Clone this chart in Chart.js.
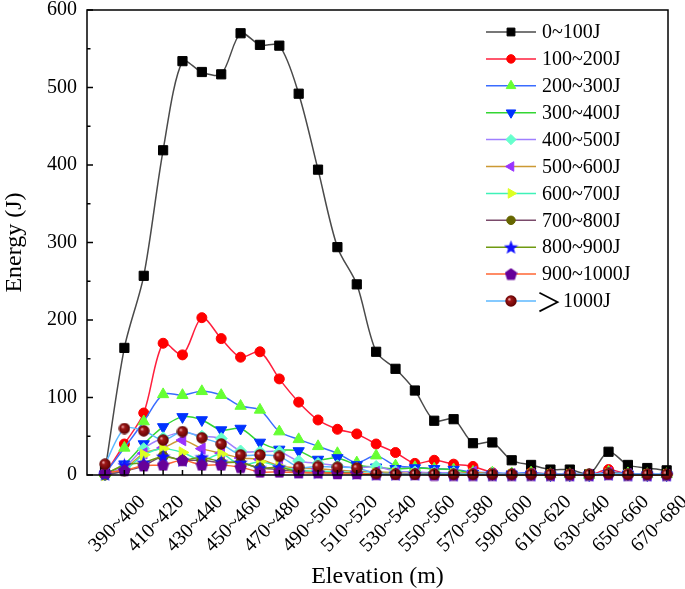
<!DOCTYPE html>
<html>
<head>
<meta charset="utf-8">
<script src="https://cdn.jsdelivr.net/npm/chart.js@4.4.0/dist/chart.umd.min.js"></script>
<style>
  html, body { margin: 0; padding: 0; background: #fff; }
</style>
</head>
<body>
<canvas id="canvas" width="685" height="589"></canvas>
<script>
// Khoảng độ cao (m)
const elevations = ['380~390', '390~400', '400~410', '410~420', '420~430', '430~440', '440~450', '450~460',
  '460~470', '470~480', '480~490', '490~500', '500~510', '510~520', '520~530', '530~540', '540~550',
  '550~560', '560~570', '570~580', '580~590', '590~600', '600~610', '610~620', '620~630', '630~640',
  '640~650', '650~660', '660~670', '670~680'];

const seriesNames = ['0~100J', '100~200J', '200~300J', '300~400J', '400~500J', '500~600J',
  '600~700J', '700~800J', '800~900J', '900~1000J', '＞1000J'];

// Năng lượng (J) theo từng nhóm
const e0_100 = [5, 164, 257, 419, 534, 520, 517, 570, 555, 554, 492, 394, 294, 246, 159, 137, 109, 70, 72, 41, 42, 19, 13, 7, 7, 1, 30, 13, 9, 6];
const e100_200 = [1, 40, 80, 170, 155, 203, 176, 152, 159, 124, 94, 71, 59, 53, 40, 29, 15, 19, 14, 11, 3, 0, 3, 1, 1, 0, 7, 1, 1, 0];
const e200_300 = [2, 35, 69, 104, 103, 108, 103, 89, 84, 56, 46, 37, 28, 16, 25, 12, 10, 8, 7, 4, 3, 2, 3, 1, 1, 0, 4, 2, 1, 1];
const e300_400 = [1, 14, 40, 62, 75, 71, 58, 60, 42, 33, 31, 20, 22, 13, 10, 8, 9, 8, 7, 2, 1, 1, 1, 0, 0, 0, 2, 1, 0, 0];
const e400_500 = [1, 10, 34, 48, 55, 50, 47, 31, 30, 30, 18, 15, 12, 9, 11, 5, 4, 3, 3, 2, 2, 1, 1, 0, 0, 0, 2, 1, 0, 0];
const e500_600 = [1, 8, 28, 35, 45, 34, 28, 22, 20, 12, 9, 8, 6, 5, 4, 3, 2, 2, 1, 4, 1, 1, 1, 0, 0, 0, 3, 1, 0, 0];
const e600_700 = [0, 6, 26, 34, 29, 19, 27, 13, 17, 11, 6, 5, 4, 3, 2, 2, 1, 1, 1, 1, 0, 0, 0, 0, 0, 0, 1, 0, 0, 0];
const e700_800 = [0, 5, 12, 24, 19, 19, 16, 16, 9, 7, 4, 3, 3, 2, 1, 1, 1, 1, 0, 0, 0, 0, 0, 0, 0, 0, 1, 0, 0, 0];
const e800_900 = [1, 13, 16, 24, 19, 23, 17, 16, 9, 10, 4, 3, 3, 2, 1, 1, 1, 1, 0, 0, 0, 0, 0, 0, 0, 0, 1, 0, 0, 0];
const e900_1000 = [3, 6, 12, 13, 19, 13, 13, 10, 4, 4, 3, 3, 2, 2, 1, 1, 1, 0, 0, 0, 0, 0, 0, 0, 0, 0, 1, 0, 0, 0];
const eOver1000 = [14, 60, 57, 45, 56, 48, 40, 26, 26, 24, 10, 11, 10, 9, 2, 1, 1, 1, 1, 1, 1, 1, 1, 1, 1, 1, 2, 1, 1, 1];

const allSeries = [e0_100, e100_200, e200_300, e300_400, e400_500, e500_600,
  e600_700, e700_800, e800_900, e900_1000, eOver1000];

// Tạo ký hiệu điểm tuỳ chỉnh
function makeMarker(size, draw) {
  const c = document.createElement('canvas');
  c.width = c.height = size;
  draw(c.getContext('2d'), size / 2);
  return c;
}
const starMark = makeMarker(15, (g, r) => {
  g.fillStyle = '#1010ff';
  g.beginPath();
  for (let k = 0; k < 10; k++) {
    const rr = k % 2 ? r * 0.42 : r;
    const a = -Math.PI / 2 + k * Math.PI / 5;
    g.lineTo(r + rr * Math.cos(a), r + 0.5 + rr * Math.sin(a));
  }
  g.closePath();
  g.fill();
});
const pentMark = makeMarker(13, (g, r) => {
  g.fillStyle = '#660099';
  g.beginPath();
  for (let k = 0; k < 5; k++) {
    const a = -Math.PI / 2 + k * 2 * Math.PI / 5;
    g.lineTo(r + r * Math.cos(a), r + 0.5 + r * Math.sin(a));
  }
  g.closePath();
  g.fill();
});
const sphereMark = makeMarker(12, (g, r) => {
  const grad = g.createRadialGradient(r - 2, r - 2, 0, r, r, r);
  grad.addColorStop(0, '#ffd0d0');
  grad.addColorStop(0.3, '#a01818');
  grad.addColorStop(1, '#5a0000');
  g.fillStyle = grad;
  g.beginPath();
  g.arc(r, r, r - 0.3, 0, Math.PI * 2);
  g.fill();
});

const lineColors = ['#4a4a4a', '#ff1f3d', '#3a6cff', '#33d633', '#9f7fff', '#cc9933',
  '#3ff2b8', '#7a4a6a', '#6f9a10', '#ff6633', '#5cb8ff'];
const markColors = ['#000000', '#ff0000', '#66ff33', '#0033ff', '#66ffcc', '#9933ff',
  '#ddff22', '#666600', '#1010ff', '#660099', '#800000'];
const markStyles = ['rect', 'circle', 'triangle', 'triangle', 'rectRot', 'triangle',
  'triangle', 'circle', starMark, pentMark, sphereMark];
const markRot = [0, 0, 0, 180, 0, 270, 90, 0, 0, 0, 0];
const markSize = [6.5, 5, 6.5, 6.5, 6, 6.5, 6.5, 5, 7, 6, 6];

const datasets = allSeries.map((vals, i) => ({
  label: seriesNames[i],
  data: vals.map((v, k) => ({ x: k, y: v })),
  borderColor: lineColors[i],
  backgroundColor: markColors[i],
  pointBackgroundColor: markColors[i],
  pointBorderColor: markColors[i],
  pointBorderWidth: 1,
  pointStyle: markStyles[i],
  pointRotation: markRot[i],
  pointRadius: markSize[i],
  borderWidth: 1.5,
  tension: 0.3,
  clip: false,
  order: -i
}));

const serif = '"Liberation Serif", "Times New Roman", serif';

// Khung, vạch chia, nhãn trục x và chú thích
const decorPlugin = {
  id: 'decor',
  afterDraw(chart) {
    const { ctx, chartArea: { left, right, top, bottom }, scales: { x, y } } = chart;
    ctx.save();
    ctx.strokeStyle = '#000';
    ctx.lineWidth = 1.5;
    ctx.strokeRect(left, top, right - left, bottom - top);
    ctx.beginPath();
    elevations.forEach((_, i) => {
      const px = x.getPixelForValue(i);
      ctx.moveTo(px, bottom);
      ctx.lineTo(px, bottom - 5);
    });
    for (let v = 0; v <= 600; v += 50) {
      const py = y.getPixelForValue(v);
      ctx.moveTo(left, py);
      ctx.lineTo(left + (v % 100 === 0 ? 6 : 3.5), py);
    }
    ctx.stroke();

    ctx.fillStyle = '#000';
    ctx.font = '20px ' + serif;
    ctx.textAlign = 'right';
    ctx.textBaseline = 'middle';
    elevations.forEach((lab, i) => {
      if (i % 2 !== 1) return;
      ctx.save();
      ctx.translate(x.getPixelForValue(i) + 18, bottom + 24);
      ctx.rotate(-Math.PI / 4);
      ctx.fillText(lab, 0, 0);
      ctx.restore();
    });

    // chú thích
    ctx.textAlign = 'left';
    chart.data.datasets.forEach((ds, i) => {
      const yy = 32 + i * 26.9;
      ctx.strokeStyle = ds.borderColor;
      ctx.lineWidth = 1.5;
      ctx.beginPath();
      ctx.moveTo(486, yy);
      ctx.lineTo(536, yy);
      ctx.stroke();
      ctx.fillStyle = ds.pointBackgroundColor;
      ctx.strokeStyle = ds.pointBorderColor;
      ctx.lineWidth = 1;
      Chart.helpers.drawPoint(ctx, {
        pointStyle: ds.pointStyle, rotation: ds.pointRotation,
        radius: ds.pointRadius * 0.85, borderWidth: 1
      }, 511, yy);
      ctx.fillStyle = '#000';
      if (ds.label.startsWith('＞')) {
        ctx.font = '26px "Noto Sans CJK SC"';
        ctx.fillText('＞', 536, yy + 1);
        ctx.font = '20px ' + serif;
        ctx.fillText(ds.label.slice(1), 563, yy + 1);
      } else {
        ctx.font = '20px ' + serif;
        ctx.fillText(ds.label, 542, yy + 1);
      }
    });
    ctx.restore();
  }
};

new Chart(document.getElementById('canvas').getContext('2d'), {
  type: 'line',
  data: { datasets: datasets },
  options: {
    responsive: false,
    animation: false,
    layout: { padding: { left: 0, top: 10, right: 17, bottom: 0 } },
    plugins: { legend: { display: false }, tooltip: { enabled: false } },
    scales: {
      x: {
        type: 'linear',
        min: -0.93,
        max: 29.07,
        grid: { display: false, drawTicks: false },
        border: { display: false },
        ticks: { display: false },
        afterBuildTicks: s => { s.ticks = elevations.map((_, i) => ({ value: i })); },
        afterFit: s => { s.height = 114; s.paddingLeft = 0; s.paddingRight = 0; },
        title: {
          display: true, text: 'Elevation (m)', color: '#000',
          font: { family: serif, size: 24 }, padding: { top: 0, bottom: -2 }
        }
      },
      y: {
        min: 0,
        max: 600,
        grid: { display: false, drawTicks: false },
        border: { display: false },
        ticks: { stepSize: 100, color: '#000', font: { family: serif, size: 20 }, padding: 10 },
        afterFit: s => { s.width = 87; s.paddingTop = 0; s.paddingBottom = 0; },
        title: {
          display: true, text: 'Energy (J)', color: '#000',
          font: { family: serif, size: 24 }, padding: { top: 0, bottom: 0 }
        }
      }
    }
  },
  plugins: [decorPlugin]
});
</script>
</body>
</html>
